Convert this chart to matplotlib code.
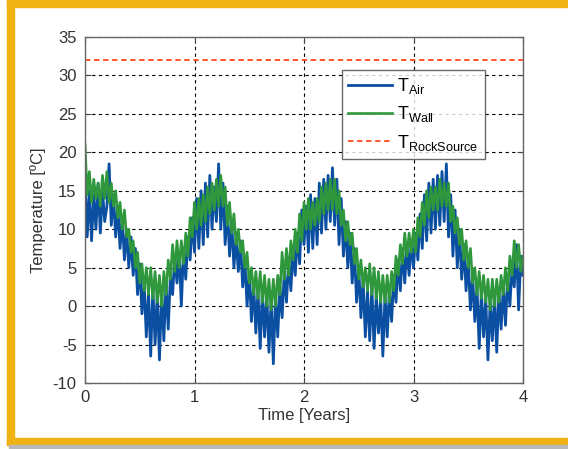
import numpy as np
import matplotlib.pyplot as plt
from matplotlib.patches import Rectangle

plt.rcParams['font.family'] = ['Liberation Sans', 'DejaVu Sans']
plt.rcParams['axes.unicode_minus'] = False

# time axis in years, one sample every 0.02 years
t = np.arange(201) * 0.02

# wall temperature (rows of 0.2 years)
t_wall = [
    21, 14.5, 17.5, 13.5, 16.5, 14, 16, 13, 17, 14,
    17.5, 13.5, 16, 13, 15, 11.5, 13.5, 10, 12.5, 9,
    10, 7, 8.5, 5, 7, 3, 5.5, 2, 5, 1.5,
    5, 1, 4.5, 0.5, 4, 0, 4.5, 1.5, 6, 3.5,
    8, 4.5, 8.5, 5, 8.5, 5.5, 9.5, 6.5, 11.5, 9,
    13.5, 10, 14, 10.5, 14.5, 11, 15.5, 12, 16, 12.5,
    16.5, 13, 17, 13, 15.5, 10.5, 13.5, 9.5, 12, 8,
    10, 7, 8.5, 5, 7, 3, 5, 1.5, 4.5, 1,
    4.5, 0.5, 4, 0, 3.5, -0.5, 3.5, 0, 4, 1.5,
    7, 3.5, 7.5, 4, 8.5, 6, 10, 7, 12, 8.5,
    13.5, 10, 14, 10, 13.5, 10.5, 14, 11, 15.5, 12,
    16, 12.5, 16.5, 12.5, 16.5, 12, 15, 10.5, 12.5, 8.5,
    11, 8, 9.5, 5.5, 7.5, 3.5, 6, 2.5, 5, 2,
    5.5, 1.5, 5, 1, 4.5, 0.5, 4, 0.5, 4, 0.5,
    4.5, 2, 6.5, 4, 8, 5.5, 9.5, 6.5, 9.5, 7,
    10, 7, 11.5, 9, 13.5, 10.5, 15, 11.5, 15.5, 12.5,
    15.5, 12.5, 16.5, 13, 16, 13, 16, 11, 13, 9.5,
    11.5, 8, 10, 6, 8.5, 5, 7.5, 3, 5, 1.5,
    4.5, 1, 4, 0.5, 3.5, -0.5, 3.5, 0, 3.5, 0.5,
    4, 1.5, 5, 2, 6.5, 4, 8.5, 5, 8, 4.5,
    6.5,
]

# air temperature
t_air = [
    17, 9, 15, 8.5, 14.5, 10, 16, 9.5, 15, 11,
    13, 18.5, 10.5, 14.5, 9, 13, 7.5, 11.5, 6, 10,
    5, 9, 4, 7.5, 1.5, 5.5, -1, 3, -4, 2,
    -6.5, 2.5, -5, 1.5, -7, 2, -4.5, 3, -3, 4,
    1.5, 6.5, 3, 7, 0, 7.5, 3.5, 9, 6, 11.5,
    7, 14, 7.5, 15, 8, 16, 9, 17, 10, 15.5,
    11, 18.5, 10, 16, 8, 13, 6.5, 11, 5, 9,
    4.5, 8.5, 2.5, 6, 0, 4.5, -2, 3, -3.5, 2,
    -5.5, 2, -4, 1.5, -6, 1, -7.5, 1.5, -4, 2.5,
    -1.5, 4.5, 0.5, 6, 2, 7.5, 4, 9.5, 5.5, 12.5,
    8, 13, 7, 14.5, 7.5, 14, 8, 16, 9.5, 16.5,
    10, 17, 11, 18, 10.5, 16.5, 8, 14, 6.5, 11,
    5, 9.5, 3, 7.5, 0.5, 5, -1.5, 3.5, -4, 2,
    -4.5, 2.5, -5.5, 1.5, -3.5, 1, -6.5, 1.5, -4, 2,
    -2, 4, 0.5, 6, 2, 7.5, 3, 8, 4, 8.5,
    5, 9.5, 6, 12, 7.5, 14.5, 8.5, 16, 9.5, 16.5,
    10, 17, 10.5, 17.5, 11, 18.5, 9, 14.5, 6.5, 12.5,
    5, 10, 3.5, 8, 2, 6, -0.5, 4, -2, 2.5,
    -5.5, 2, -4, 1, -7, 0.5, -4.5, 1.5, -6, 2,
    -3, 2.5, -2.5, 4, 0, 5, 2.5, 8, -0.5, 6.5,
    4,
]

t_rock = 32

fig = plt.figure(figsize=(5.68, 4.49), dpi=100)

# orange frame around the figure
orange = '#F0B212'
fig.patches.append(Rectangle((7/568, 1 - 7/449), 1, 7/449, transform=fig.transFigure, color=orange, zorder=0))
fig.patches.append(Rectangle((7/568, 4/449), 7/568, 1, transform=fig.transFigure, color=orange, zorder=0))
fig.patches.append(Rectangle((7/568, 4/449), 1, 7/449, transform=fig.transFigure, color=orange, zorder=0))
fig.patches.append(Rectangle((9/568, 0), 1, 4/449, transform=fig.transFigure, color='#b8b8b8', zorder=0))

ax = fig.add_axes([85/568, 1 - 383/449, 438/568, 346/449])
ax.plot(t, t_air, color='#0B4FA2', lw=2.0, label=r'T$_{\mathregular{Air}}$')
ax.plot(t, t_wall, color='#2F973C', lw=1.9, label=r'T$_{\mathregular{Wall}}$')
ax.axhline(t_rock, color='#FF4A1C', lw=1.3, ls=(0, (3, 2)), label=r'T$_{\mathregular{RockSource}}$')

ax.set_xlim(0, 4)
ax.set_ylim(-10, 35)
ax.set_xticks([0, 1, 2, 3, 4])
ax.set_yticks(range(-10, 40, 5))
ax.grid(True, color='black', ls=(0, (3, 3)), lw=0.8)
ax.tick_params(direction='in', length=4, top=True, right=True, labelsize=12,
               colors='#444444', labelcolor='#333333')
ax.tick_params(axis='y', pad=6)
ax.tick_params(axis='x', pad=5)
for s in ax.spines.values():
    s.set_color('#666666')
    s.set_linewidth(1.0)

ax.set_xlabel('Time [Years]', fontsize=12, color='#333333', labelpad=2)
ax.set_ylabel('Temperature [ºC]', fontsize=12, color='#333333', labelpad=5)

leg = ax.legend(loc='upper left', bbox_to_anchor=(342/568, 1 - 70/449),
                bbox_transform=fig.transFigure, borderaxespad=0, fontsize=13,
                frameon=True, fancybox=False, edgecolor='#444444',
                handlelength=2.4, handletextpad=0.3, labelspacing=0.45,
                borderpad=0.35)
leg.get_frame().set_linewidth(1.0)

fig.savefig('out.png', dpi=100)
